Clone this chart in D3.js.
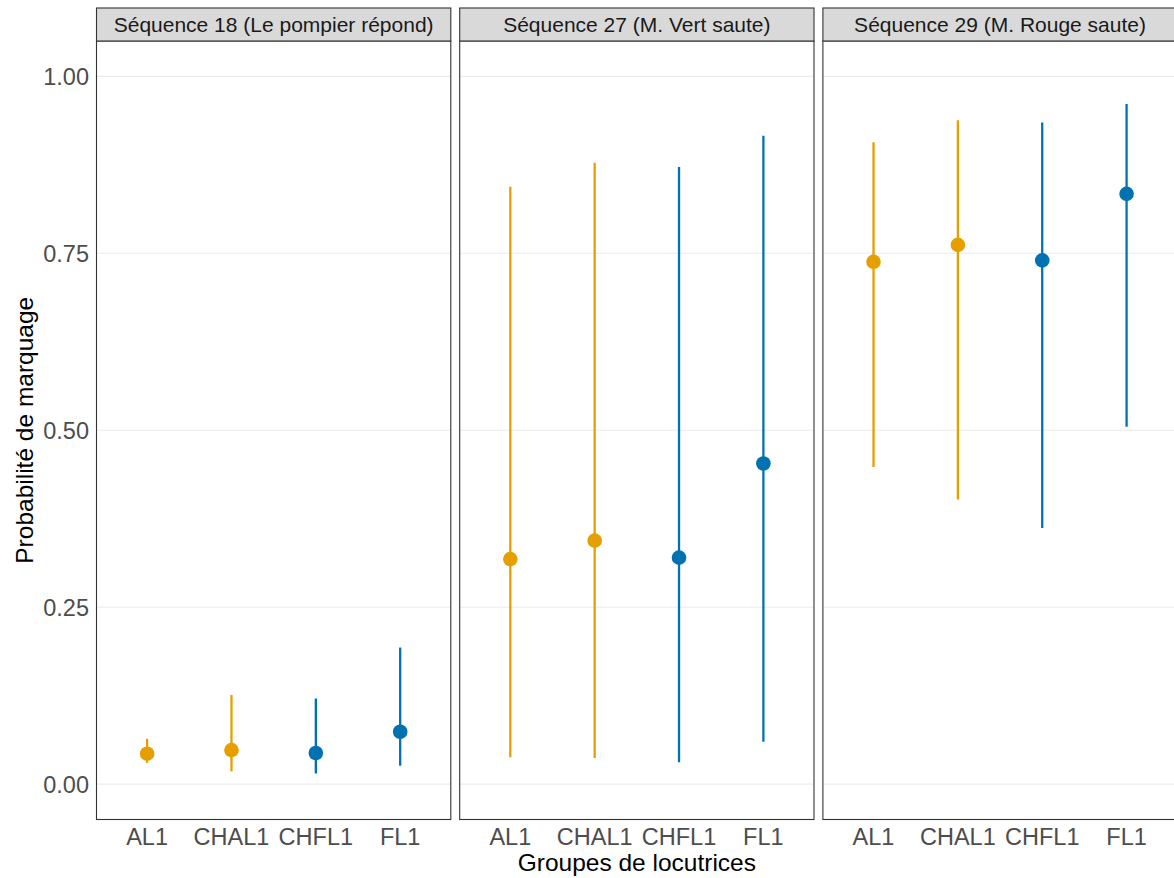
<!DOCTYPE html>
<html>
<head>
<meta charset="utf-8">
<script src="https://cdn.jsdelivr.net/npm/d3@7"></script>
<style>
  body { margin: 0; background: #fff; }
  text { font-family: "Liberation Sans", Arial, sans-serif; }
</style>
</head>
<body>
<div id="chart"></div>
<script>
var sequences = ["Séquence 18 (Le pompier répond)", "Séquence 27 (M. Vert saute)", "Séquence 29 (M. Rouge saute)"]
var groups = ["AL1", "CHAL1", "CHFL1", "FL1"]
var yTicks = [0, 0.25, 0.5, 0.75, 1]

// estimates and interval bounds, one array per sequence
var est18 = [0.043, 0.048, 0.044, 0.074],
    lo18 = [0.030, 0.018, 0.015, 0.026],
    hi18 = [0.064, 0.126, 0.121, 0.193]
var est27 = [0.318, 0.344, 0.320, 0.453],
    lo27 = [0.038, 0.037, 0.031, 0.060],
    hi27 = [0.844, 0.878, 0.872, 0.916]
var est29 = [0.738, 0.762, 0.740, 0.834],
    lo29 = [0.448, 0.402, 0.362, 0.505],
    hi29 = [0.907, 0.938, 0.935, 0.961]

var panels = [
  {title: sequences[0], est: est18, lo: lo18, hi: hi18},
  {title: sequences[1], est: est27, lo: lo27, hi: hi27},
  {title: sequences[2], est: est29, lo: lo29, hi: hi29}
]

// note: "top" is taken by window.top, so panelTop / panelBottom
var width = 1174, height = 878,
    left = 96.5, panelW = 354.3, gap = 8.9,
    stripTop = 8, panelTop = 41, panelBottom = 819.5

var svg = d3.select("#chart").append("svg")
  .attr("width", width)
  .attr("height", height)

var color = d3.scaleOrdinal()
  .domain(groups)
  .range(["#E69F00", "#E69F00", "#0072B2", "#0072B2"])

var y = d3.scaleLinear()
  .domain([-0.05, 1.05])
  .range([panelBottom, panelTop])

var x = d3.scalePoint()
  .domain(groups)
  .range([0, panelW])
  .padding(0.6)

// y tick labels (left of first panel only)
svg.append("g").selectAll("text")
  .data(yTicks)
  .enter().append("text")
    .attr("x", 89)
    .attr("y", function(d) { return y(d) })
    .attr("dy", "0.36em")
    .attr("text-anchor", "end")
    .attr("font-size", "23.5px")
    .attr("fill", "#4d4d4d")
    .text(function(d) { return d3.format(".2f")(d) })

panels.forEach(function(p, i) {
  var px = left + i * (panelW + gap)
  var g = svg.append("g").attr("transform", "translate(" + px + ",0)")

  // gridlines
  g.selectAll(".grid")
    .data(yTicks)
    .enter().append("line")
      .attr("x1", 0).attr("x2", panelW)
      .attr("y1", function(d) { return y(d) })
      .attr("y2", function(d) { return y(d) })
      .attr("stroke", "#ebebeb")
      .attr("stroke-width", 1.1)

  var rows = groups.map(function(gr, k) {
    return {group: gr, est: p.est[k], lo: p.lo[k], hi: p.hi[k]}
  })

  g.selectAll(".range")
    .data(rows)
    .enter().append("line")
      .attr("x1", function(d) { return x(d.group) })
      .attr("x2", function(d) { return x(d.group) })
      .attr("y1", function(d) { return y(d.lo) })
      .attr("y2", function(d) { return y(d.hi) })
      .attr("stroke", function(d) { return color(d.group) })
      .attr("stroke-width", 2.3)

  g.selectAll(".pt")
    .data(rows)
    .enter().append("circle")
      .attr("cx", function(d) { return x(d.group) })
      .attr("cy", function(d) { return y(d.est) })
      .attr("r", 7.3)
      .attr("fill", function(d) { return color(d.group) })

  // panel border
  g.append("rect")
    .attr("x", 0).attr("y", panelTop)
    .attr("width", panelW).attr("height", panelBottom - panelTop)
    .attr("fill", "none")
    .attr("stroke", "#333")
    .attr("stroke-width", 1.1)

  // strip
  g.append("rect")
    .attr("x", 0).attr("y", stripTop)
    .attr("width", panelW).attr("height", panelTop - stripTop)
    .attr("fill", "#d9d9d9")
    .attr("stroke", "#333")
    .attr("stroke-width", 1.1)
  g.append("text")
    .attr("x", panelW / 2)
    .attr("y", (stripTop + panelTop) / 2)
    .attr("dy", "0.36em")
    .attr("text-anchor", "middle")
    .attr("font-size", "21px")
    .attr("fill", "#1a1a1a")
    .text(p.title)

  // x tick labels
  g.selectAll(".xt")
    .data(groups)
    .enter().append("text")
      .attr("x", function(d) { return x(d) })
      .attr("y", 845)
      .attr("text-anchor", "middle")
      .attr("font-size", "23.5px")
      .attr("fill", "#4d4d4d")
      .text(function(d) { return d })
})

svg.append("text")
  .attr("x", left + 1.5 * panelW + gap)
  .attr("y", 871)
  .attr("text-anchor", "middle")
  .attr("font-size", "24.5px")
  .attr("fill", "#000")
  .text("Groupes de locutrices")

svg.append("text")
  .attr("transform", "translate(33," + ((panelTop + panelBottom) / 2) + ") rotate(-90)")
  .attr("text-anchor", "middle")
  .attr("font-size", "24.5px")
  .attr("fill", "#000")
  .text("Probabilité de marquage")
</script>
</body>
</html>
